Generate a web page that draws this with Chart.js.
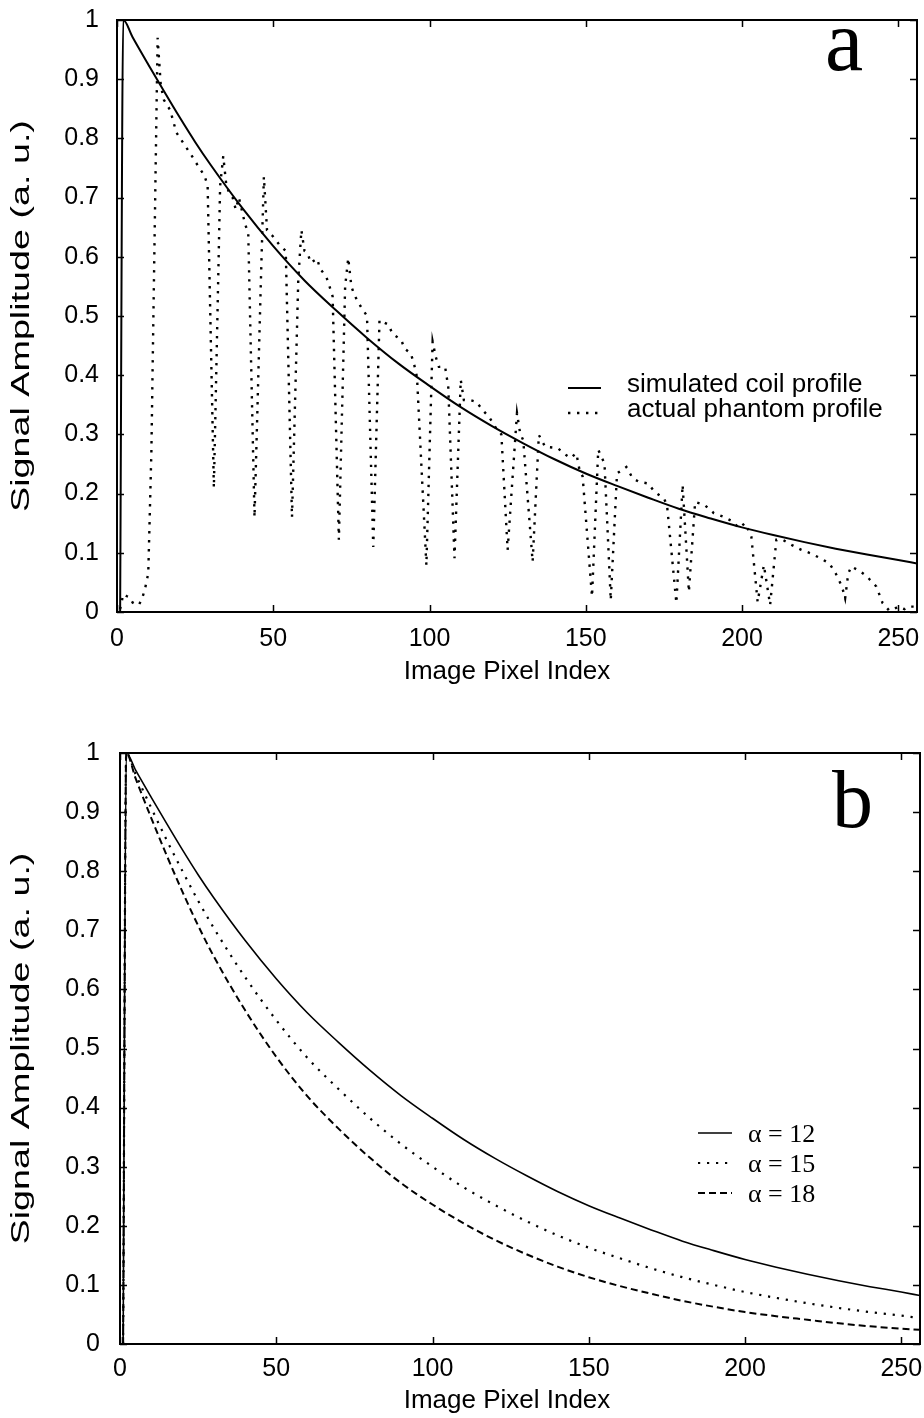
<!DOCTYPE html>
<html>
<head>
<meta charset="utf-8">
<script src="https://cdn.jsdelivr.net/npm/chart.js@4.4.0/dist/chart.umd.min.js"></script>
<style>
  body { margin: 0; background: #fff; }
  #wrap { position: relative; width: 924px; height: 1418px; }
  canvas { position: absolute; left: 0; }
  #chartA { top: 0; }
  #chartB { top: 709px; }
</style>
</head>
<body>
<div id="wrap">
  <canvas id="chartA" width="924" height="700"></canvas>
  <canvas id="chartB" width="924" height="709"></canvas>
</div>
<script>
// axes
var xTicks = [0, 50, 100, 150, 200, 250];
var yTicks = [0, 0.1, 0.2, 0.3, 0.4, 0.5, 0.6, 0.7, 0.8, 0.9, 1];
var yTickLabels = ["0", "0.1", "0.2", "0.3", "0.4", "0.5", "0.6", "0.7", "0.8", "0.9", "1"];

// panel a : simulated coil profile
var coilX = [1, 2, 5, 10, 15, 20, 25, 30, 40, 50, 60, 70, 80, 90, 100, 110, 120, 130, 140, 150, 160, 170, 180, 190, 200, 210, 220, 230, 240, 250, 256];
var coilY = [0, 1.0, 0.971, 0.925, 0.88, 0.836, 0.794, 0.755, 0.683, 0.618, 0.56, 0.51, 0.463, 0.42, 0.382, 0.346, 0.314, 0.285, 0.258, 0.234, 0.213, 0.193, 0.174, 0.158, 0.143, 0.13, 0.118, 0.107, 0.097, 0.088, 0.082];

// panel a : measured phantom profile
var phantomX = [1, 2, 3, 4, 5, 6, 7, 8, 9, 10, 11, 12, 13, 14, 15, 17, 19, 22, 24, 26, 28, 29, 31, 33, 34, 35, 36, 37, 38, 39, 41, 42, 44, 46, 47, 48, 50, 52, 54, 56, 58, 59, 60, 61, 62, 64, 65, 67, 68, 69, 71, 73, 74, 75, 76, 78, 80, 82, 84, 87, 88, 91, 92, 94, 95, 96, 99, 101, 102, 103, 105, 106, 108, 110, 111, 113, 115, 117, 119, 121, 123, 125, 128, 129, 130, 133, 135, 137, 141, 143, 145, 147, 148, 149, 152, 154, 156, 158, 160, 163, 165, 167, 170, 172, 175, 176, 179, 181, 183, 185, 188, 191, 194, 197, 199, 201, 202, 203, 205, 207, 209, 211, 213, 216, 219, 222, 225, 228, 230, 232, 233, 234, 235, 238, 240, 241, 243, 244, 245, 247, 248, 250, 252, 253, 256];
var phantomY = [0.005, 0.03, 0.027, 0.025, 0.016, 0.013, 0.012, 0.022, 0.04, 0.065, 0.27, 0.62, 0.97, 0.89, 0.865, 0.848, 0.81, 0.786, 0.77, 0.753, 0.737, 0.72, 0.21, 0.72, 0.77, 0.72, 0.707, 0.70, 0.68, 0.70, 0.655, 0.64, 0.16, 0.55, 0.735, 0.645, 0.634, 0.62, 0.61, 0.16, 0.56, 0.645, 0.61, 0.606, 0.59, 0.597, 0.58, 0.566, 0.55, 0.533, 0.122, 0.55, 0.598, 0.55, 0.535, 0.516, 0.50, 0.11, 0.493, 0.485, 0.471, 0.459, 0.445, 0.437, 0.42, 0.397, 0.079, 0.457, 0.431, 0.414, 0.414, 0.38, 0.091, 0.392, 0.358, 0.358, 0.355, 0.341, 0.33, 0.313, 0.30, 0.105, 0.336, 0.302, 0.29, 0.085, 0.299, 0.279, 0.277, 0.268, 0.26, 0.268, 0.24, 0.229, 0.026, 0.274, 0.251, 0.02, 0.234, 0.245, 0.226, 0.22, 0.217, 0.203, 0.192, 0.181, 0.015, 0.215, 0.034, 0.186, 0.181, 0.167, 0.161, 0.153, 0.142, 0.15, 0.139, 0.127, 0.017, 0.079, 0.012, 0.122, 0.122, 0.113, 0.105, 0.099, 0.091, 0.082, 0.065, 0.043, 0.023, 0.065, 0.077, 0.068, 0.06, 0.054, 0.043, 0.029, 0.015, 0.003, 0.003, 0.009, 0.005, 0.009, 0.009];

// panel b : profiles for three alpha values
var alphaX = [1, 2, 5, 10, 15, 20, 25, 30, 40, 50, 60, 70, 80, 90, 100, 110, 120, 130, 140, 150, 160, 170, 180, 190, 200, 210, 220, 230, 240, 250, 256];
var alpha12 = [0, 1.0, 0.971, 0.925, 0.88, 0.836, 0.794, 0.755, 0.683, 0.618, 0.56, 0.51, 0.463, 0.42, 0.382, 0.346, 0.314, 0.285, 0.258, 0.234, 0.213, 0.193, 0.174, 0.158, 0.143, 0.13, 0.118, 0.107, 0.097, 0.088, 0.082];
var alpha15 = [0, 1.0, 0.964, 0.907, 0.852, 0.8, 0.75, 0.704, 0.621, 0.548, 0.484, 0.431, 0.382, 0.338, 0.3, 0.265, 0.235, 0.208, 0.184, 0.163, 0.145, 0.128, 0.113, 0.1, 0.088, 0.078, 0.069, 0.061, 0.054, 0.048, 0.044];
var alpha18 = [0, 1.0, 0.957, 0.89, 0.826, 0.765, 0.708, 0.656, 0.565, 0.486, 0.419, 0.364, 0.315, 0.272, 0.236, 0.204, 0.176, 0.152, 0.131, 0.113, 0.098, 0.085, 0.073, 0.063, 0.054, 0.047, 0.041, 0.035, 0.03, 0.026, 0.024];

var sans = "'Liberation Sans', Arial, sans-serif";
var serif = "'Liberation Serif', 'Times New Roman', serif";

function pts(xs, ys) {
    return xs.map(function (x, i) { return { x: x, y: ys[i] }; });
}

// box round the plot with inward ticks, axis titles, legend and panel letter
var matlabBox = {
    id: 'matlabBox',
    afterDatasetsDraw: function (chart, args, opts) {
        var ctx = chart.ctx, a = chart.chartArea;
        var xs = chart.scales.x, ys = chart.scales.y;
        ctx.save();
        ctx.strokeStyle = '#000';
        ctx.fillStyle = '#000';
        ctx.lineWidth = 2;
        ctx.setLineDash([]);
        ctx.strokeRect(a.left, a.top, a.right - a.left, a.bottom - a.top);
        ctx.beginPath();
        xs.ticks.forEach(function (t) {
            var px = Math.round(xs.getPixelForValue(t.value)) + 0.5;
            ctx.moveTo(px, a.bottom); ctx.lineTo(px, a.bottom - 7);
            ctx.moveTo(px, a.top); ctx.lineTo(px, a.top + 7);
        });
        ys.ticks.forEach(function (t) {
            var py = Math.round(ys.getPixelForValue(t.value)) + 0.5;
            ctx.moveTo(a.left, py); ctx.lineTo(a.left + 7, py);
            ctx.moveTo(a.right, py); ctx.lineTo(a.right - 7, py);
        });
        ctx.lineWidth = 1.5;
        ctx.stroke();

        ctx.textAlign = 'center';
        ctx.textBaseline = 'middle';

        // x title
        ctx.font = opts.titleFont;
        ctx.fillText(chart.options.scales.x.title.text, opts.xTitleX, opts.xTitleY);

        // rotated y title, drawn wide along its length
        ctx.save();
        ctx.translate(opts.yTitleX, (a.top + a.bottom) / 2);
        ctx.rotate(-Math.PI / 2);
        ctx.scale(opts.yTitleStretch, 1);
        ctx.fillText(chart.options.scales.y.title.text, 0, 0);
        ctx.restore();

        // panel letter
        ctx.font = opts.letterFont;
        ctx.textBaseline = 'alphabetic';
        ctx.textAlign = 'left';
        ctx.fillText(opts.letter, opts.letterX, opts.letterY);

        // legend
        var lg = opts.legend;
        ctx.font = lg.font;
        ctx.textBaseline = 'middle';
        chart.data.datasets.forEach(function (ds, i) {
            var y = lg.y + i * lg.step;
            ctx.beginPath();
            ctx.lineWidth = ds.borderWidth;
            ctx.lineCap = 'butt';
            ctx.setLineDash(ds.borderDash || []);
            ctx.moveTo(lg.x, y);
            ctx.lineTo(lg.x + lg.len, y);
            ctx.stroke();
            ctx.setLineDash([]);
            ctx.fillText(ds.label, lg.textX, y + lg.textDy);
        });
        ctx.restore();
    }
};

function makeOptions(p) {
    return {
        responsive: false,
        animation: false,
        layout: { padding: { top: p.top, right: p.right, left: 0, bottom: 0 } },
        plugins: {
            legend: { display: false },
            tooltip: { enabled: false },
            matlabBox: p.box
        },
        scales: {
            x: {
                type: 'linear',
                min: 0,
                max: 256,
                grid: { display: false, drawTicks: false },
                border: { display: false },
                afterBuildTicks: function (s) { s.ticks = xTicks.map(function (v) { return { value: v }; }); },
                afterFit: function (s) {
                    s.height = p.xHeight;
                    s.paddingLeft = 0; s.paddingRight = 0;
                },
                ticks: {
                    color: '#000',
                    padding: p.xTickPad,
                    maxRotation: 0,
                    font: { family: sans, size: 25 },
                    callback: function (v) { return String(v); }
                },
                title: { display: false, text: 'Image Pixel Index' }
            },
            y: {
                min: 0,
                max: 1,
                grid: { display: false, drawTicks: false },
                border: { display: false },
                afterBuildTicks: function (s) { s.ticks = yTicks.map(function (v) { return { value: v }; }); },
                afterFit: function (s) {
                    s.width = p.yWidth;
                    s.paddingTop = 0; s.paddingBottom = 0;
                },
                ticks: {
                    color: '#000',
                    padding: p.yTickPad,
                    font: { family: sans, size: 25 },
                    callback: function (v, i) { return yTickLabels[i]; }
                },
                title: { display: false, text: 'Signal Amplitude (a. u.)' }
            }
        }
    };
}

new Chart(document.getElementById('chartA'), {
    type: 'line',
    data: {
        datasets: [{
            label: 'simulated coil profile',
            data: pts(coilX, coilY),
            borderColor: '#000',
            borderWidth: 2,
            pointRadius: 0,
            cubicInterpolationMode: 'monotone'
        }, {
            label: 'actual phantom profile',
            data: pts(phantomX, phantomY),
            borderColor: '#000',
            borderWidth: 2.4,
            borderDash: [2.4, 6.6],
            borderCapStyle: 'butt',
            pointRadius: 0,
            tension: 0
        }]
    },
    options: makeOptions({
        top: 20, right: 7, yWidth: 117, xHeight: 88, xTickPad: 12, yTickPad: 18,
        box: {
            titleFont: '26px ' + sans, xTitleX: 507, xTitleY: 672,
            yTitleX: 22, yTitleStretch: 1.45,
            letter: 'a', letterFont: '86px ' + serif, letterX: 825, letterY: 70,
            legend: { x: 568, len: 33, y: 388, step: 25, textX: 627, textDy: -3, font: '26px ' + sans }
        }
    }),
    plugins: [matlabBox]
});

new Chart(document.getElementById('chartB'), {
    type: 'line',
    data: {
        datasets: [{
            label: '\u03b1 = 12',
            data: pts(alphaX, alpha12),
            borderColor: '#000',
            borderWidth: 1.6,
            pointRadius: 0,
            cubicInterpolationMode: 'monotone'
        }, {
            label: '\u03b1 = 15',
            data: pts(alphaX, alpha15),
            borderColor: '#000',
            borderWidth: 2.2,
            borderDash: [2.2, 6.8],
            borderCapStyle: 'butt',
            pointRadius: 0,
            cubicInterpolationMode: 'monotone'
        }, {
            label: '\u03b1 = 18',
            data: pts(alphaX, alpha18),
            borderColor: '#000',
            borderWidth: 2,
            borderDash: [7, 4],
            borderCapStyle: 'butt',
            pointRadius: 0,
            cubicInterpolationMode: 'monotone'
        }]
    },
    options: makeOptions({
        top: 44, right: 4, yWidth: 120, xHeight: 74, xTickPad: 10, yTickPad: 20,
        box: {
            titleFont: '26px ' + sans, xTitleX: 507, xTitleY: 692,
            yTitleX: 22, yTitleStretch: 1.45,
            letter: 'b', letterFont: '82px ' + serif, letterX: 832, letterY: 118,
            legend: { x: 698, len: 34, y: 424, step: 30, textX: 748, textDy: 2, font: '26px ' + serif }
        }
    }),
    plugins: [matlabBox]
});
</script>
</body>
</html>
